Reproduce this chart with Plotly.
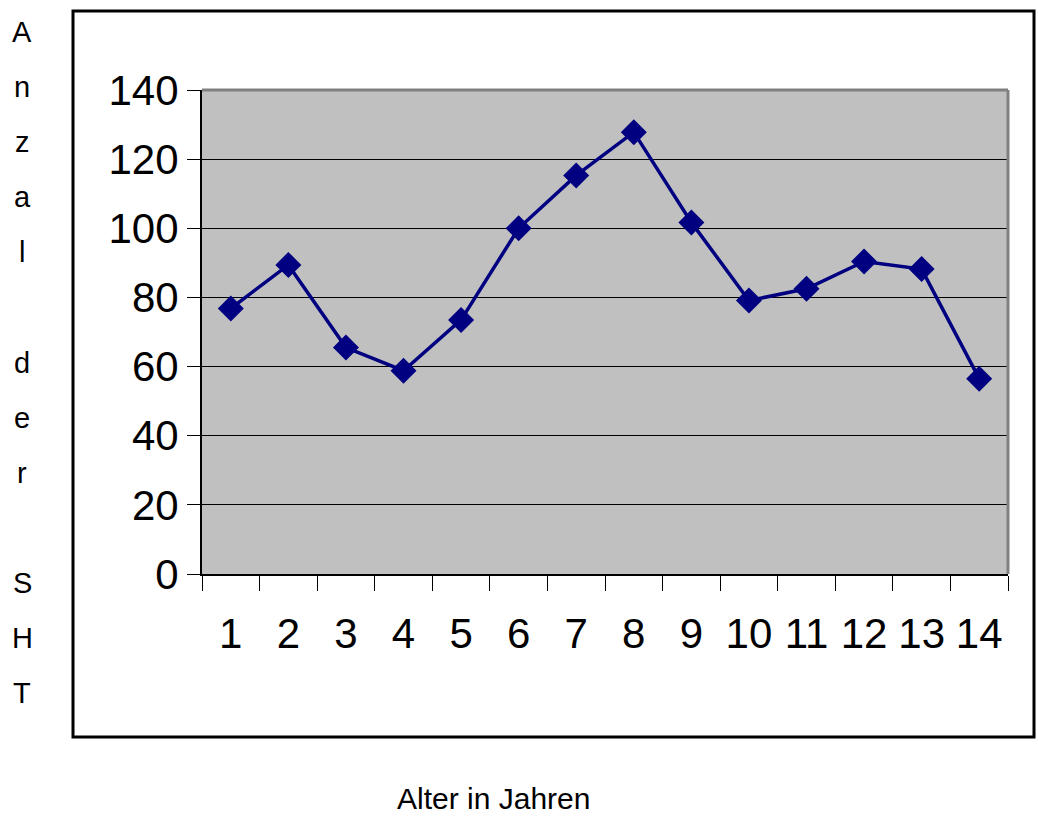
import plotly.graph_objects as go

categories = ["1", "2", "3", "4", "5", "6", "7", "8", "9", "10", "11", "12", "13", "14"]
values = [76.8, 89.4, 65.5, 58.8, 73.5, 100.0, 115.3, 127.8, 101.7, 79.1, 82.5, 90.4, 88.2, 56.5]
y_ticks = [0, 20, 40, 60, 80, 100, 120, 140]
x_title = "Alter in Jahren"
y_title = "Anzal der SHT"

W, H = 1038, 818
L, R, T, B = 202, 1008, 90, 574

fig = go.Figure()
fig.add_trace(go.Scatter(
    x=categories, y=values, mode="lines+markers",
    line=dict(color="#000080", width=3.5),
    marker=dict(symbol="diamond", size=20, color="#000080"),
    showlegend=False,
))

font = "Liberation Sans, Arial"
fig.update_xaxes(
    type="category", range=[-0.5, 13.5], tickson="boundaries",
    tickmode="array", tickvals=categories, ticktext=categories, tickangle=0,
    ticks="outside", ticklen=15, tickwidth=1, tickcolor="#000000",
    showline=True, linecolor="#000000", linewidth=2, showgrid=False,
    tickfont=dict(family=font, size=42, color="#000000"),
    ticklabelstandoff=22,
)
fig.update_yaxes(
    range=[0, 140], tickvals=y_ticks, ticks="outside", ticklen=13, tickwidth=1,
    tickcolor="#000000", showline=True, linecolor="#000000", linewidth=2,
    showgrid=True, gridcolor="#000000", gridwidth=1, zeroline=False,
    tickfont=dict(family=font, size=42, color="#000000"),
    ticklabelstandoff=0,
)

def px2x(px):
    return (px - L) / (R - L)

def py2y(py):
    return (B - py) / (B - T)

shapes = [
    dict(type="rect", xref="paper", yref="paper", x0=px2x(73), x1=px2x(1034),
         y0=py2y(737), y1=py2y(11), line=dict(color="#000000", width=3)),
    dict(type="line", xref="paper", yref="paper", x0=0, x1=1, y0=1, y1=1,
         line=dict(color="#808080", width=3)),
    dict(type="line", xref="paper", yref="paper", x0=1, x1=1, y0=0, y1=1,
         line=dict(color="#808080", width=3)),
]

annotations = [dict(
    text=x_title, xref="paper", yref="paper", x=px2x(493), y=py2y(817),
    showarrow=False, xanchor="center", yanchor="bottom",
    font=dict(family=font, size=30, color="#000000"),
)]
for i, ch in enumerate(y_title):
    if ch == " ":
        continue
    annotations.append(dict(
        text=ch, xref="paper", yref="paper", x=px2x(22), y=py2y(32 + i * 55.1),
        showarrow=False, xanchor="center", yanchor="middle",
        font=dict(family=font, size=29, color="#000000"),
    ))

fig.update_layout(
    width=W, height=H,
    margin=dict(l=L, r=W - R, t=T, b=H - B, autoexpand=False),
    paper_bgcolor="#FFFFFF", plot_bgcolor="#C0C0C0",
    shapes=shapes, annotations=annotations,
)

fig.write_html(
    "out.html",
    config={"displayModeBar": False},
    post_script="document.body.style.margin='0';document.body.style.overflow='hidden';",
)
